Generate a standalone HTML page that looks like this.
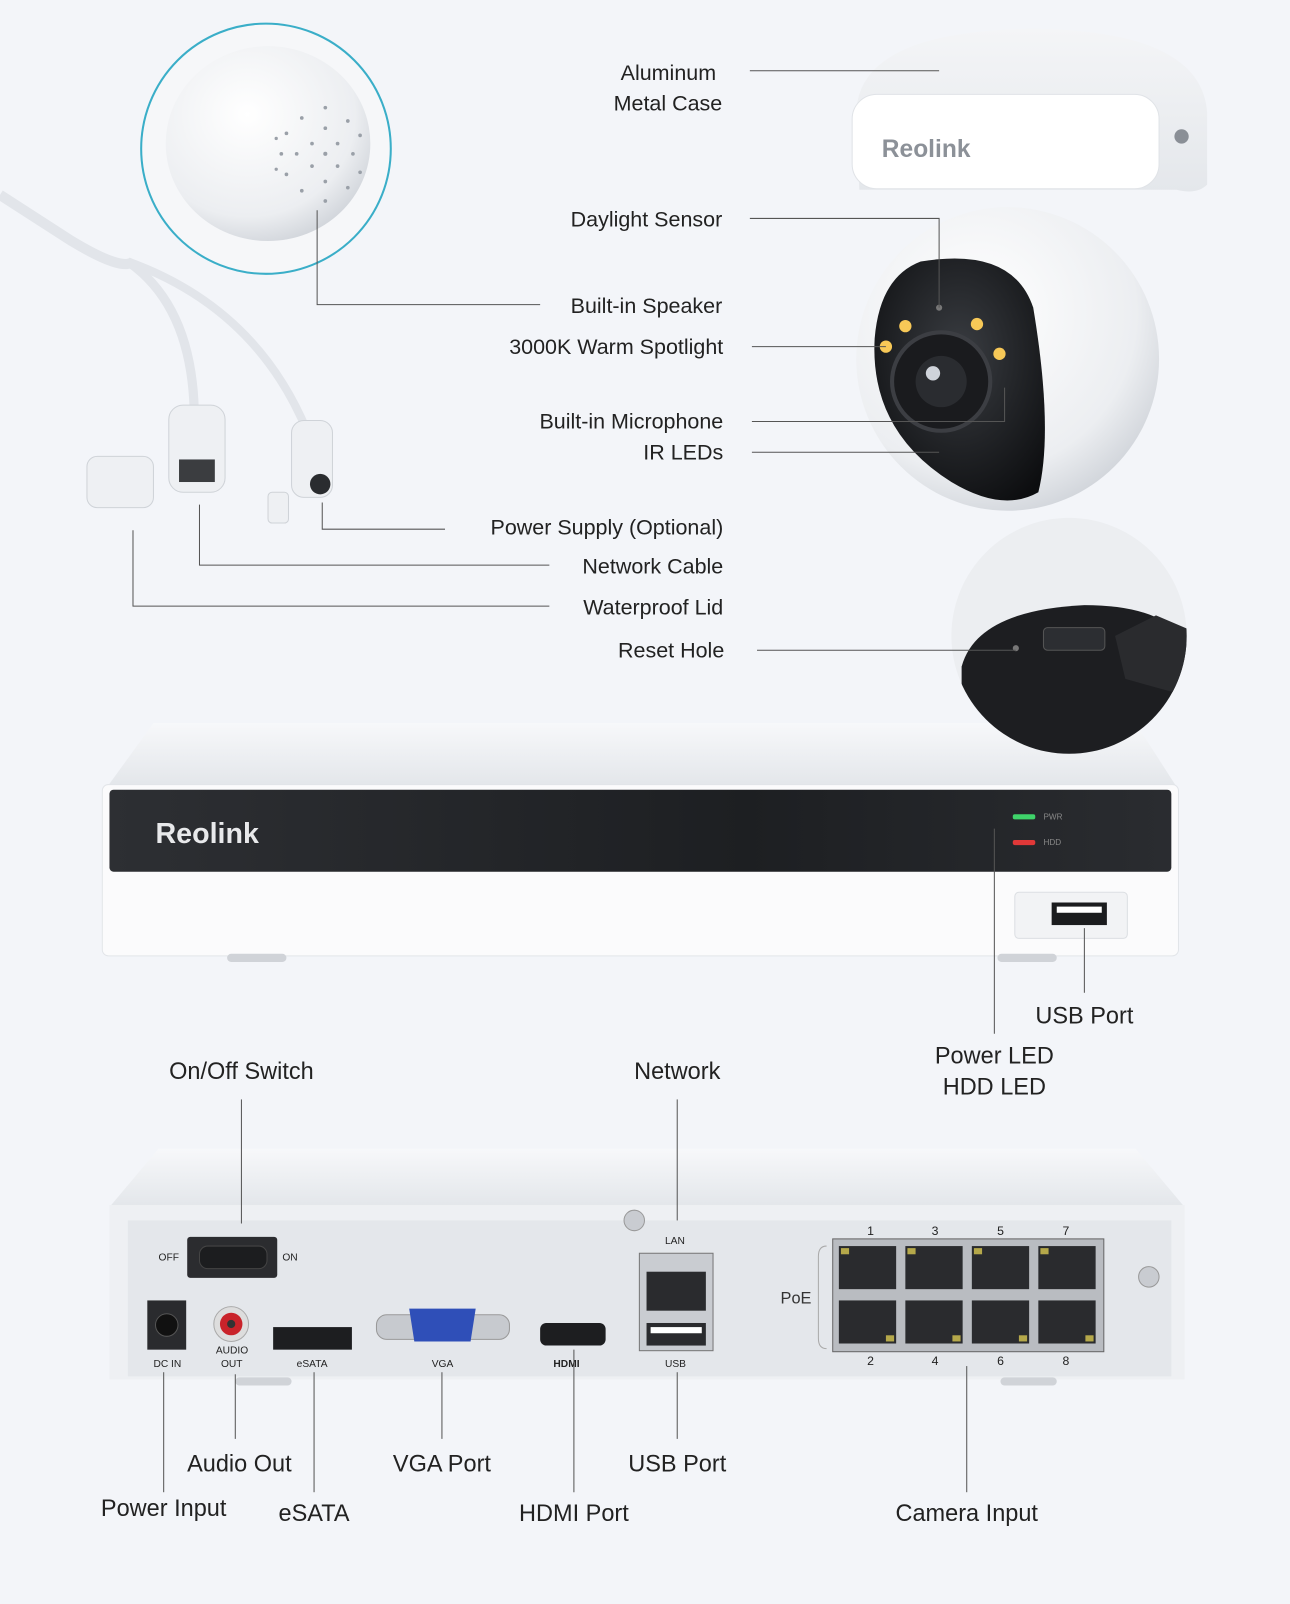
<!DOCTYPE html>
<html><head><meta charset="utf-8"><style>
html,body{margin:0;padding:0;background:#f3f5f9;}
svg{display:block}
text{font-family:"Liberation Sans",sans-serif;fill:#222;}
</style></head><body>
<svg width="1290" height="1604" viewBox="0 0 1261 1564" preserveAspectRatio="none" xmlns="http://www.w3.org/2000/svg">
<defs>
<radialGradient id="ball" cx="0.4" cy="0.35" r="0.7"><stop offset="0" stop-color="#ffffff"/><stop offset="0.75" stop-color="#eceef1"/><stop offset="1" stop-color="#cfd3d9"/></radialGradient>
<radialGradient id="dark" cx="0.5" cy="0.4" r="0.7"><stop offset="0" stop-color="#3a3d42"/><stop offset="1" stop-color="#0c0d0f"/></radialGradient>
<linearGradient id="band" x1="0" x2="1"><stop offset="0" stop-color="#2d2f33"/><stop offset="0.6" stop-color="#1d1f22"/><stop offset="1" stop-color="#2a2c30"/></linearGradient>
<linearGradient id="top" x1="0" y1="0" x2="0" y2="1"><stop offset="0" stop-color="#f7f8fa"/><stop offset="1" stop-color="#e3e6ea"/></linearGradient>
<linearGradient id="head" x1="0" y1="0" x2="0" y2="1"><stop offset="0" stop-color="#f4f5f7"/><stop offset="1" stop-color="#e4e7eb"/></linearGradient>
</defs>
<rect width="1261" height="1564" fill="#f3f5f9"/>

<!-- speaker zoom circle -->
<circle cx="260" cy="145" r="122" fill="#f6f7f9" stroke="#3aaec8" stroke-width="2"/>
<ellipse cx="262" cy="140" rx="100" ry="95" fill="url(#ball)"/>
<g fill="#9aa0a8">
<circle cx="318" cy="150" r="2"/><circle cx="305" cy="140" r="1.8"/><circle cx="330" cy="140" r="1.8"/><circle cx="305" cy="162" r="1.8"/><circle cx="330" cy="162" r="1.8"/>
<circle cx="290" cy="150" r="1.8"/><circle cx="345" cy="150" r="1.8"/><circle cx="318" cy="125" r="1.8"/><circle cx="318" cy="177" r="1.8"/>
<circle cx="280" cy="130" r="1.8"/><circle cx="280" cy="170" r="1.8"/><circle cx="295" cy="115" r="1.8"/><circle cx="295" cy="186" r="1.8"/>
<circle cx="275" cy="150" r="1.8"/><circle cx="340" cy="118" r="1.8"/><circle cx="340" cy="183" r="1.8"/><circle cx="352" cy="132" r="1.8"/><circle cx="352" cy="168" r="1.8"/>
<circle cx="318" cy="105" r="1.8"/><circle cx="318" cy="196" r="1.8"/><circle cx="270" cy="165" r="1.6"/><circle cx="270" cy="135" r="1.6"/>
</g>
<!-- cables -->
<path d="M0 190 L70 235 Q120 265 130 255" stroke="#e2e5ea" stroke-width="10" fill="none"/>
<path d="M125 255 Q190 300 190 410" stroke="#e2e5ea" stroke-width="9" fill="none"/>
<path d="M125 255 Q250 300 300 420" stroke="#e2e5ea" stroke-width="8" fill="none"/>
<rect x="165" y="395" width="55" height="85" rx="14" fill="#eef0f3" stroke="#cfd3d8"/>
<rect x="175" y="448" width="35" height="22" fill="#3b3d40"/>
<rect x="285" y="410" width="40" height="75" rx="12" fill="#eef0f3" stroke="#cfd3d8"/>
<circle cx="313" cy="472" r="10" fill="#2a2c2f"/>
<rect x="85" y="445" width="65" height="50" rx="10" fill="#eef0f3" stroke="#cfd3d8"/>
<rect x="262" y="480" width="20" height="30" rx="4" fill="#eef0f3" stroke="#cfd3d8"/>

<!-- camera -->
<circle cx="985" cy="350" r="148" fill="url(#ball)"/>
<path d="M900 255 Q990 240 1010 300 Q1030 420 1015 480 Q980 500 930 470 Q850 420 855 330 Q860 270 900 255Z" fill="url(#dark)"/>
<circle cx="920" cy="372" r="48" fill="#1a1b1e" stroke="#3c3e43" stroke-width="4"/>
<circle cx="920" cy="372" r="25" fill="#2a2c30"/><circle cx="912" cy="364" r="7" fill="#cfd3da"/>
<g fill="#f7c857"><circle cx="885" cy="318" r="6"/><circle cx="866" cy="338" r="6"/><circle cx="955" cy="316" r="6"/><circle cx="977" cy="345" r="6"/></g>
<circle cx="918" cy="300" r="3" fill="#777"/>
<path d="M838 100 Q850 30 1010 28 Q1175 30 1180 110 L1180 180 Q1170 190 1150 185 L840 185 Z" fill="url(#head)"/>
<rect x="833" y="92" width="300" height="92" rx="24" fill="#ffffff" stroke="#e0e3e7"/>
<circle cx="1155" cy="133" r="7" fill="#8a8f96"/>
<text x="862" y="153" font-size="24" font-weight="bold" style="fill:#8c9198">Reolink</text>

<!-- NVR front -->
<path d="M105 767 L150 705 L1110 705 L1150 767 Z" fill="url(#top)"/>
<rect x="100" y="765" width="1052" height="167" rx="6" fill="#fbfbfc" stroke="#e2e5e9"/>
<rect x="107" y="770" width="1038" height="80" rx="4" fill="url(#band)"/>
<text x="152" y="822" font-size="28" font-weight="bold" style="fill:#e8e9eb">Reolink</text>
<rect x="990" y="794" width="22" height="5" rx="2" fill="#3fd36a"/><rect x="990" y="819" width="22" height="5" rx="2" fill="#e03838"/>
<text x="1020" y="799" font-size="8" style="fill:#888">PWR</text><text x="1020" y="824" font-size="8" style="fill:#888">HDD</text>
<rect x="992" y="870" width="110" height="45" rx="4" fill="#f2f3f5" stroke="#dcdfe3"/>
<rect x="1028" y="880" width="54" height="22" fill="#1b1c1e"/><rect x="1033" y="884" width="44" height="6" fill="#fff"/>
<rect x="222" y="930" width="58" height="8" rx="4" fill="#d0d3d8"/><rect x="975" y="930" width="58" height="8" rx="4" fill="#d0d3d8"/>

<!-- reset zoom (over NVR top) -->
<circle cx="1045" cy="620" r="115" fill="#eceef1"/>
<clipPath id="rc"><circle cx="1045" cy="620" r="115"/></clipPath>
<g clip-path="url(#rc)">
<path d="M940 650 Q955 595 1060 590 Q1150 590 1165 640 L1165 740 L940 740Z" fill="#1d1e21"/>
<rect x="1020" y="612" width="60" height="22" rx="4" fill="#2c2e32" stroke="#555"/>
<path d="M1090 620 L1130 600 L1165 615 L1165 680 L1100 662Z" fill="#2a2b2e"/>
</g>
<circle cx="993" cy="632" r="3" fill="#777"/>

<!-- camera label lines -->
<g stroke="#555" stroke-width="1" fill="none">
<path d="M733 69 H918"/><path d="M733 213 H918 V300"/><path d="M310 205 V297 H528"/>
<path d="M735 338 H866"/><path d="M735 411 H982 V378"/><path d="M735 441 H918"/>
<path d="M315 490 V516 H435"/><path d="M195 492 V551 H537"/><path d="M130 517 V591 H537"/><path d="M740 634 H993"/>
</g>
<g font-size="21">
<text x="700" y="78" text-anchor="end">Aluminum</text>
<text x="706" y="108" text-anchor="end">Metal Case</text>
<text x="706" y="221" text-anchor="end">Daylight Sensor</text>
<text x="706" y="305" text-anchor="end">Built-in Speaker</text>
<text x="707" y="345" text-anchor="end">3000K Warm Spotlight</text>
<text x="707" y="418" text-anchor="end">Built-in Microphone</text>
<text x="707" y="448" text-anchor="end">IR LEDs</text>
<text x="707" y="521" text-anchor="end">Power Supply (Optional)</text>
<text x="707" y="559" text-anchor="end">Network Cable</text>
<text x="707" y="599" text-anchor="end">Waterproof Lid</text>
<text x="708" y="641" text-anchor="end">Reset Hole</text>
</g>

<g stroke="#555" fill="none"><path d="M972 808 V1008"/><path d="M1060 905 V968"/></g>
<g font-size="23">
<text x="1060" y="998" text-anchor="middle">USB Port</text>
<text x="972" y="1037" text-anchor="middle">Power LED</text>
<text x="972" y="1067" text-anchor="middle">HDD LED</text>
<text x="236" y="1052" text-anchor="middle">On/Off Switch</text>
<text x="662" y="1052" text-anchor="middle">Network</text>
</g>

<!-- NVR back -->
<path d="M107 1177 L155 1120 L1110 1120 L1158 1177 Z" fill="url(#top)"/>
<rect x="107" y="1175" width="1051" height="170" fill="#eef0f3"/>
<rect x="125" y="1190" width="1020" height="152" fill="#e4e7eb"/>
<rect x="230" y="1343" width="55" height="8" rx="4" fill="#d0d3d8"/><rect x="978" y="1343" width="55" height="8" rx="4" fill="#d0d3d8"/>
<circle cx="620" cy="1190" r="10" fill="#c9ccd1" stroke="#999"/>
<circle cx="1123" cy="1245" r="10" fill="#c9ccd1" stroke="#999"/>
<rect x="183" y="1206" width="88" height="40" rx="3" fill="#2b2c2f"/><rect x="195" y="1215" width="66" height="22" rx="8" fill="#1c1d1f" stroke="#444"/>
<g font-size="10" style="fill:#444"><text x="155" y="1229">OFF</text><text x="276" y="1229">ON</text>
<text x="150" y="1333">DC IN</text><text x="211" y="1320">AUDIO</text><text x="216" y="1333">OUT</text><text x="290" y="1333">eSATA</text>
<text x="422" y="1333">VGA</text><text x="650" y="1333">USB</text><text x="650" y="1213">LAN</text></g>
<text x="541" y="1333" font-size="10" font-weight="bold">HDMI</text>
<rect x="144" y="1268" width="38" height="48" fill="#2a2b2e"/><circle cx="163" cy="1292" r="11" fill="#111" stroke="#555"/>
<circle cx="226" cy="1291" r="17" fill="#ddd" stroke="#aaa"/><circle cx="226" cy="1291" r="11" fill="#c9232a"/><circle cx="226" cy="1291" r="4" fill="#333"/>
<rect x="267" y="1294" width="77" height="22" fill="#1d1e20"/>
<rect x="368" y="1282" width="130" height="24" rx="10" fill="#c7cacf" stroke="#999"/>
<path d="M400 1276 H465 L460 1308 H405Z" fill="#2f4fb8"/>
<rect x="528" y="1290" width="64" height="22" rx="6" fill="#1d1e20"/>
<rect x="625" y="1222" width="72" height="95" fill="#c9ccd1" stroke="#777"/>
<rect x="632" y="1240" width="58" height="38" fill="#2a2b2e"/><rect x="632" y="1290" width="58" height="22" fill="#2a2b2e"/><rect x="636" y="1294" width="50" height="6" fill="#fff"/>
<text x="763" y="1271" font-size="16" style="fill:#333">PoE</text>
<path d="M808 1215 Q800 1215 800 1225 V1305 Q800 1315 808 1315" stroke="#aaa" fill="none"/>
<rect x="814" y="1208" width="265" height="110" fill="#b9bcc1" stroke="#666"/>
<g fill="#2a2b2e">
<rect x="820" y="1215" width="56" height="42"/><rect x="885" y="1215" width="56" height="42"/><rect x="950" y="1215" width="56" height="42"/><rect x="1015" y="1215" width="56" height="42"/>
<rect x="820" y="1268" width="56" height="42"/><rect x="885" y="1268" width="56" height="42"/><rect x="950" y="1268" width="56" height="42"/><rect x="1015" y="1268" width="56" height="42"/>
</g>
<g fill="#b5a84a">
<rect x="822" y="1217" width="8" height="6"/><rect x="887" y="1217" width="8" height="6"/><rect x="952" y="1217" width="8" height="6"/><rect x="1017" y="1217" width="8" height="6"/>
<rect x="866" y="1302" width="8" height="6"/><rect x="931" y="1302" width="8" height="6"/><rect x="996" y="1302" width="8" height="6"/><rect x="1061" y="1302" width="8" height="6"/>
</g>
<g font-size="12" style="fill:#333" text-anchor="middle">
<text x="851" y="1204">1</text><text x="914" y="1204">3</text><text x="978" y="1204">5</text><text x="1042" y="1204">7</text>
<text x="851" y="1331">2</text><text x="914" y="1331">4</text><text x="978" y="1331">6</text><text x="1042" y="1331">8</text>
</g>
<g stroke="#555" fill="none">
<path d="M236 1072 V1193"/><path d="M662 1072 V1190"/>
<path d="M160 1338 V1455"/><path d="M230 1340 V1403"/><path d="M307 1338 V1455"/><path d="M432 1338 V1403"/>
<path d="M561 1316 V1455"/><path d="M662 1338 V1403"/><path d="M945 1332 V1455"/>
</g>
<g font-size="23" text-anchor="middle">
<text x="234" y="1435">Audio Out</text><text x="432" y="1435">VGA Port</text><text x="662" y="1435">USB Port</text>
<text x="160" y="1478">Power Input</text><text x="307" y="1483">eSATA</text><text x="561" y="1483">HDMI Port</text><text x="945" y="1483">Camera Input</text>
</g>
</svg>
</body></html>
